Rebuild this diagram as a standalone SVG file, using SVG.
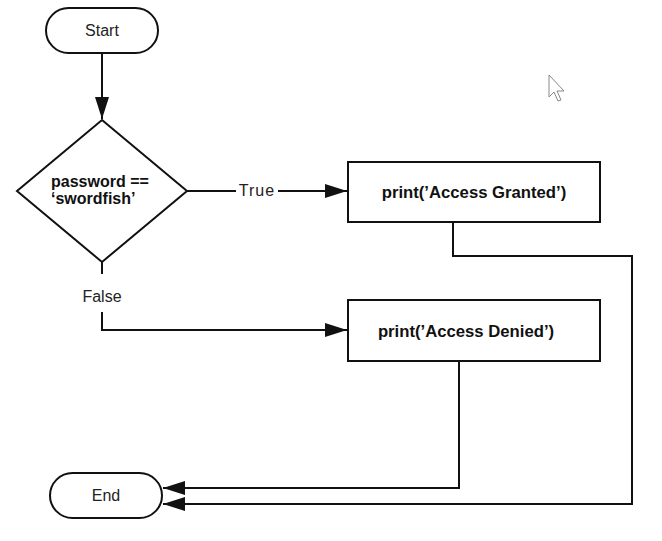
<svg xmlns="http://www.w3.org/2000/svg" width="662" height="541" viewBox="0 0 662 541">
<style>
.shape{fill:#fff;stroke:#111;stroke-width:2}
.conn{fill:none;stroke:#111;stroke-width:2}
.lbl{font-family:"Liberation Sans",Arial,sans-serif;font-size:16px;fill:#222;text-anchor:middle;dominant-baseline:central}
.bold{font-family:"Liberation Sans",Arial,sans-serif;font-size:16.7px;font-weight:bold;fill:#111;dominant-baseline:central}
.dec{font-size:16px}
</style>
<defs>
<marker id="arr" markerUnits="userSpaceOnUse" markerWidth="24" markerHeight="14" refX="22" refY="7" orient="auto">
<path d="M0,0 L22,7 L0,14 Z" fill="#111"/>
</marker>
</defs>
<rect width="662" height="541" fill="#fff"/>
<g id="connectors">
<line class="conn" x1="102" y1="53" x2="102" y2="119" marker-end="url(#arr)"/>
<line class="conn" x1="187" y1="191" x2="236" y2="191"/>
<line class="conn" x1="278" y1="191" x2="347" y2="191" marker-end="url(#arr)"/>
<line class="conn" x1="102" y1="262" x2="102" y2="274"/>
<polyline class="conn" points="102,312 102,330 347,330" marker-end="url(#arr)"/>
<polyline class="conn" points="453,222 453,256 632,256 632,504 163,504" marker-end="url(#arr)"/>
<polyline class="conn" points="459,361 459,488 163,488" marker-end="url(#arr)"/>
<text class="lbl" x="257" y="190" letter-spacing="1">True</text>
<text class="lbl" x="102" y="296">False</text>
</g>
<g id="start">
<rect class="shape" x="46" y="8" width="112" height="45" rx="22.5"/>
<text class="lbl" x="102" y="30">Start</text>
</g>
<g id="decision">
<polygon class="shape" points="102,120 187,191 102,262 17,191"/>
<text class="bold dec" x="51" y="181">password ==</text>
<text class="bold dec" x="51" y="198">‘swordfish’</text>
</g>
<g id="granted">
<rect class="shape" x="348" y="162" width="252" height="60"/>
<text class="bold" x="474" y="192" text-anchor="middle">print(’Access Granted’)</text>
</g>
<g id="denied">
<rect class="shape" x="348" y="300" width="252" height="61"/>
<text class="bold" x="466" y="331" text-anchor="middle">print(’Access Denied’)</text>
</g>
<g id="end">
<rect class="shape" x="50" y="473" width="112" height="45" rx="22.5"/>
<text class="lbl" x="106" y="495">End</text>
</g>
<g id="cursor">
<path d="M549,75 L549,97 L554,92 L558,101 L561,100 L557,91 L564,91 Z" fill="#fff" stroke="#888" stroke-width="1"/>
</g>
</svg>
